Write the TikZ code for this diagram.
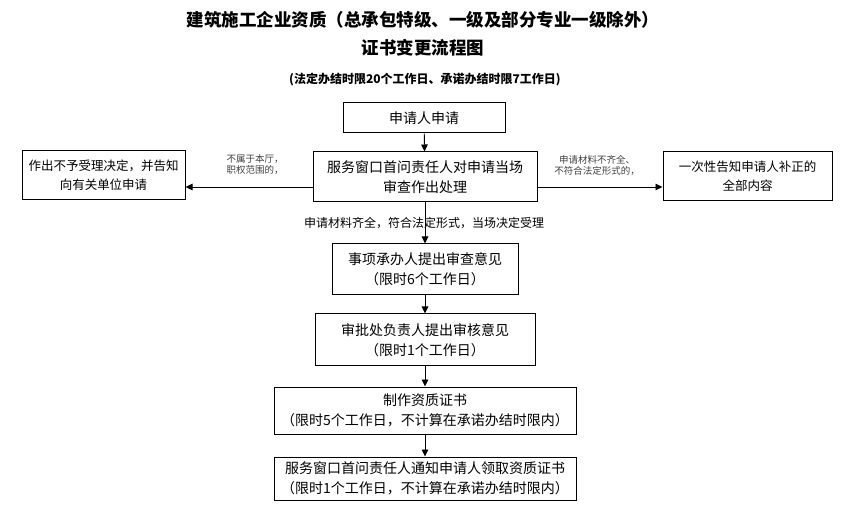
\documentclass[tikz,border=0pt]{standalone}
\usepackage{fontspec}
\setmainfont{Noto Sans CJK SC}
\usetikzlibrary{arrows.meta}

\begin{document}
\begin{tikzpicture}[x=1pt, y=-1pt,
    caixa/.style={draw, line width=1pt, inner sep=0pt, align=center, font=\fontsize{14}{20}\selectfont},
    lado/.style={caixa, font=\fontsize{12.5}{19}\selectfont},
    seta/.style={-{Triangle[length=7pt,width=6.5pt]}, line width=0.9pt},
    nota/.style={align=center, text=black!75, font=\fontsize{9.5}{11}\selectfont}]
    \useasboundingbox (0,0) rectangle (849,529);

    % Titulo
    \node[align=center, font=\bfseries\fontsize{17.5}{28}\selectfont] (titulo) at (423,34)
        {建筑施工企业资质（总承包特级、一级及部分专业一级除外）\\证书变更流程图};
    \node[font=\bfseries\fontsize{12}{14}\selectfont] (prazo) at (425,80)
        {(法定办结时限20个工作日、承诺办结时限7工作日)};

    % Caixas
    \node[caixa, minimum width=162pt, minimum height=30pt] (pedido) at (424,118) {申请人申请};
    \node[caixa, minimum width=224pt, minimum height=50pt] (janela) at (425,177)
        {服务窗口首问责任人对申请当场\\审查作出处理};
    \node[lado, minimum width=163pt, minimum height=49pt] (recusa) at (103.5,175.5)
        {作出不予受理决定，并告知\\向有关单位申请};
    \node[lado, minimum width=169pt, minimum height=49pt] (aviso) at (747.5,176.5)
        {一次性告知申请人补正的\\全部内容};
    \node[caixa, minimum width=186pt, minimum height=51pt] (parecer) at (425,269.5)
        {事项承办人提出审查意见\\（限时6个工作日）};
    \node[caixa, minimum width=220pt, minimum height=52pt] (revisao) at (425,340)
        {审批处负责人提出审核意见\\（限时1个工作日）};
    \node[caixa, minimum width=302pt, minimum height=47pt] (emissao) at (425,410.5)
        {制作资质证书\\（限时5个工作日，不计算在承诺办结时限内）};
    \node[caixa, minimum width=302pt, minimum height=43pt] (entrega) at (425,478.5)
        {服务窗口首问责任人通知申请人领取资质证书\\（限时1个工作日，不计算在承诺办结时限内）};

    % Rotulos
    \node[nota] (fora) at (255,165) {不属于本厅，\\职权范围的，};
    \node[nota] (falta) at (597,165) {申请材料不齐全、\\不符合法定形式的，};
    \node[font=\fontsize{12}{14}\selectfont] (aceite) at (424,223)
        {申请材料齐全，符合法定形式，当场决定受理};

    % Setas
    \coordinate (dir) at ([yshift=-10pt]janela.east);
    \coordinate (esq) at ([yshift=-10pt]janela.west);
    \draw[seta] (pedido) -- (janela);
    \draw[seta] (janela) -- (parecer);
    \draw[seta] (esq) -- (esq -| recusa.east);
    \draw[seta] (dir) -- (dir -| aviso.west);
    \draw[seta] (parecer) -- (revisao);
    \draw[seta] (revisao) -- (emissao);
    \draw[seta] (emissao) -- (entrega);
\end{tikzpicture}
\end{document}
